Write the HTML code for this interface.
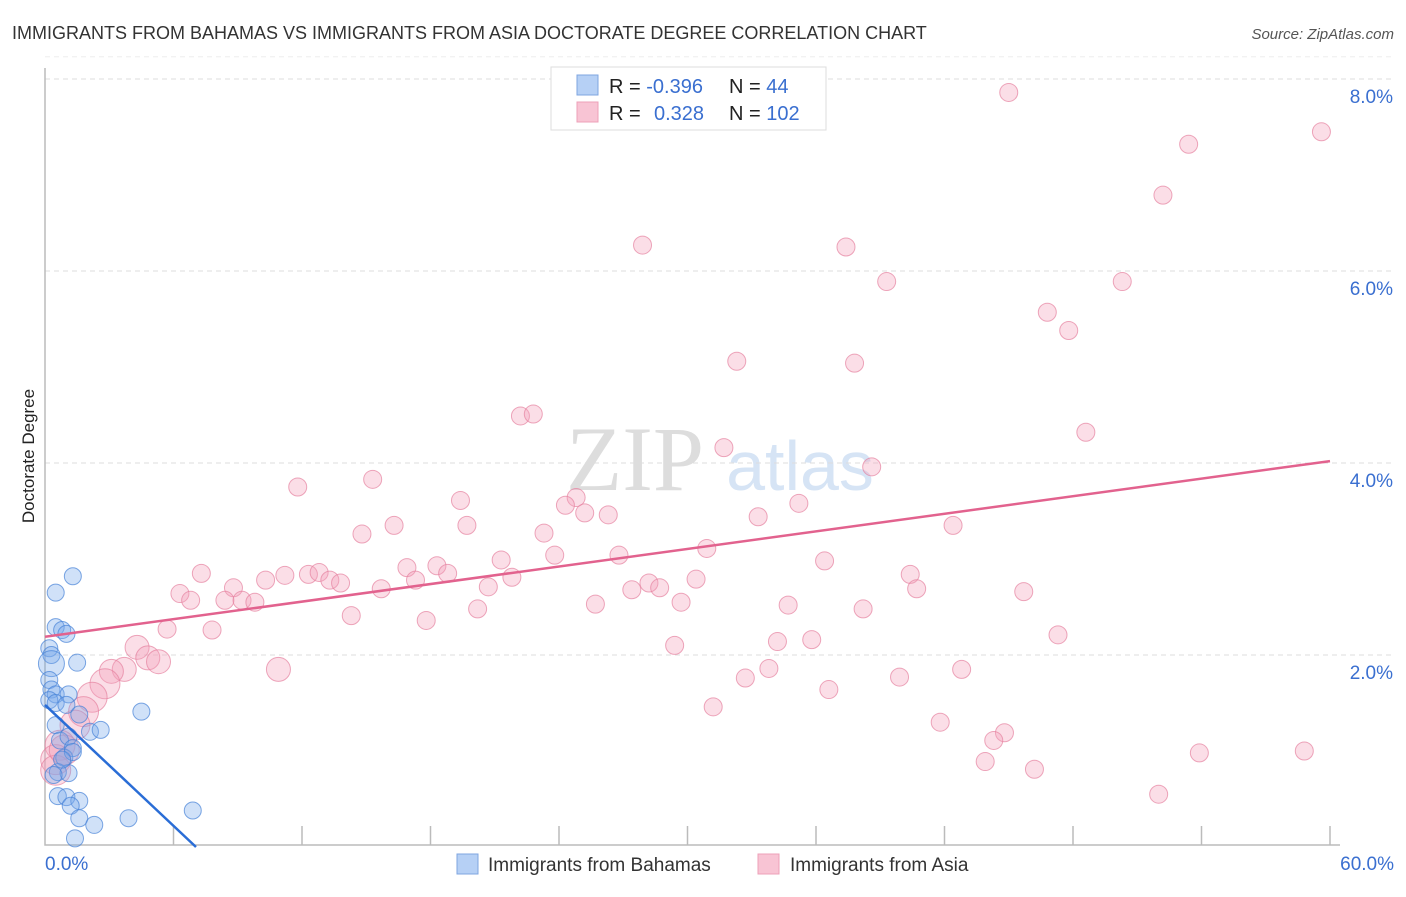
<!DOCTYPE html>
<html><head><meta charset="utf-8"><style>
body{margin:0;background:#fff;font-family:"Liberation Sans",sans-serif}
</style></head><body>
<svg id="c" width="1406" height="892" xmlns="http://www.w3.org/2000/svg" style="font-family:'Liberation Sans',sans-serif">
<text x="12" y="39" font-size="18" fill="#333">IMMIGRANTS FROM BAHAMAS VS IMMIGRANTS FROM ASIA DOCTORATE DEGREE CORRELATION CHART</text>
<text x="1394" y="39" font-size="15" fill="#555" text-anchor="end" font-style="italic">Source: ZipAtlas.com</text>
<text x="34" y="456" font-size="17" fill="#222" text-anchor="middle" transform="rotate(-90 34 456)">Doctorate Degree</text>
<g><text x="635" y="490" font-size="92" fill="#ddd" font-family="Liberation Serif" text-anchor="middle">ZIP</text><text x="800" y="490" font-size="70" fill="#d6e4f5" text-anchor="middle">atlas</text></g>
<g id="grid"></g><g id="pts"></g><g id="lines"></g>
<g>
<rect x="551" y="67" width="275" height="63" fill="#fff" stroke="#ddd"/>
<rect x="577" y="75" width="21" height="20" fill="#b6d0f5" stroke="#7fa6e0"/>
<rect x="577" y="102" width="21" height="20" fill="#f8c4d4" stroke="#eea0b8"/>
<text x="609" y="93" font-size="20" fill="#222">R = <tspan fill="#3a6fd0">-0.396</tspan></text>
<text x="729" y="93" font-size="20" fill="#222">N = <tspan fill="#3a6fd0">  44</tspan></text>
<text x="609" y="120" font-size="20" fill="#222">R = </text><text x="654" y="120" font-size="20" fill="#3a6fd0">0.328</text>
<text x="729" y="120" font-size="20" fill="#222">N = <tspan fill="#3a6fd0">102</tspan></text>
</g>
<g>
<rect x="457" y="854" width="21" height="20" fill="#b6d0f5" stroke="#7fa6e0"/>
<text x="488" y="871" font-size="19" fill="#333">Immigrants from Bahamas</text>
<rect x="758" y="854" width="21" height="20" fill="#f8c4d4" stroke="#eea0b8"/>
<text x="790" y="871" font-size="19" fill="#333">Immigrants from Asia</text>
</g>
</svg>
<script>
const yTicks=[2,4,6,8];
const yTickLabels=["2.0%","4.0%","6.0%","8.0%"];
const xTickLabels=["0.0%","60.0%"];
const asiaX=[45.0,53.4,59.6,52.2,27.9,37.4,39.3,50.3,46.8,47.8,32.3,37.8,22.2,22.8,48.6,31.7,38.6,11.8,15.3,19.4,24.8,24.3,25.2,26.3,35.2,33.3,16.3,19.7,42.4,14.8,23.3,30.9,23.8,26.8,21.3,36.4,7.3,10.3,11.2,12.3,12.8,13.3,13.8,16.9,17.3,18.3,18.8,21.8,20.7,15.7,8.8,30.4,28.2,28.7,27.4,40.4,40.7,45.7,6.3,6.8,8.4,9.2,9.8,25.7,29.7,34.7,38.2,20.2,14.3,17.8,5.7,7.8,47.3,35.8,34.2,29.4,4.3,4.8,5.3,3.7,3.1,10.9,33.8,42.8,32.7,39.9,36.6,2.8,2.2,1.8,31.2,41.8,1.4,44.8,44.3,0.7,58.8,53.9,0.5,43.9,46.2,0.5,52.0,0.9];
const asiaY=[7.86,7.32,7.45,6.79,6.27,6.25,5.89,5.89,5.57,5.38,5.06,5.04,4.49,4.51,4.32,4.16,3.96,3.75,3.83,3.61,3.64,3.56,3.48,3.46,3.58,3.44,3.35,3.35,3.35,3.26,3.27,3.11,3.04,3.04,2.99,2.98,2.85,2.78,2.83,2.84,2.86,2.78,2.75,2.91,2.78,2.93,2.85,2.81,2.71,2.69,2.70,2.79,2.75,2.70,2.68,2.84,2.69,2.66,2.64,2.57,2.57,2.57,2.55,2.53,2.55,2.52,2.48,2.48,2.41,2.36,2.27,2.26,2.21,2.16,2.14,2.10,2.08,1.97,1.93,1.85,1.83,1.85,1.86,1.85,1.76,1.77,1.64,1.70,1.56,1.41,1.46,1.30,1.27,1.19,1.11,1.06,1.00,0.98,0.91,0.89,0.81,0.80,0.55,1.01];
const asiaBig=[76,77,78,79,80,81,87,88,89,92,95,98,101,103];
const bahX=[1.3,0.5,0.5,0.8,1.0,1.5,0.2,0.3,0.3,0.2,0.3,0.5,1.1,0.2,0.5,1.0,4.5,0.5,0.7,1.1,2.1,1.6,1.3,0.9,1.3,0.6,1.1,0.6,1.0,1.6,1.2,1.6,2.3,3.9,6.9,1.4,0.8,0.4,2.6];
const bahY=[2.82,2.65,2.29,2.26,2.22,1.92,2.07,2.00,1.91,1.74,1.64,1.59,1.59,1.53,1.50,1.48,1.41,1.27,1.11,1.15,1.20,1.38,1.03,0.93,0.99,0.78,0.77,0.53,0.52,0.48,0.43,0.30,0.23,0.30,0.38,0.09,0.91,0.75,1.22];
const asiaTrend=[2.19,4.02];
const bahTrend=[1.48,0.0];
const sx=v=>45+v*(1285/60), sy=v=>847-v*96;
const NS="http://www.w3.org/2000/svg";
function mk(p,t,a){const e=document.createElementNS(NS,t);for(const k in a)e.setAttribute(k,a[k]);p.appendChild(e);return e;}
const g=document.getElementById('grid');
yTicks.forEach((t,i)=>{
 const l=mk(g,'line',{x1:45,x2:1394,y1:sy(t),y2:sy(t),stroke:'#ddd','stroke-dasharray':'5,4'});
 
 
 const tx=mk(g,'text',{x:1393,y:sy(t)+24,'font-size':19,fill:'#3a6fd0','text-anchor':'end'});tx.textContent=yTickLabels[i];
 
 
});
mk(g,'line',{x1:45,x2:1394,y1:sy(8.2)-3,y2:sy(8.2)-3,stroke:'#eee','stroke-dasharray':'5,4'});
const ax=mk(g,'path',{d:'M45,68V845H1340',fill:'none',stroke:'#bbb','stroke-width':1.5});


for(let i=1;i<=10;i++){const t=mk(g,'line',{x1:sx(i*6),x2:sx(i*6),y1:826,y2:845,stroke:'#bbb','stroke-width':1.5});
 
 }
[[0,'start',45],[60,'end',1394]].forEach((d,i)=>{const t=mk(g,'text',{x:d[2],y:870,'font-size':19,fill:'#3a6fd0','text-anchor':d[1]});t.textContent=xTickLabels[i];
 
 });
const p=document.getElementById('pts');
asiaX.forEach((x,i)=>{const big=asiaBig.indexOf(i)>=0;const c=mk(p,'circle',{cx:sx(x),cy:sy(asiaY[i]),r:big?(x<3?15:12):9,fill:'rgba(244,160,186,0.35)',stroke:'rgba(230,130,160,0.7)','stroke-width':1});
 
 });
bahX.forEach((x,i)=>{const c=mk(p,'circle',{cx:sx(x),cy:sy(bahY[i]),r:i==8?13:8.5,fill:'rgba(120,170,235,0.35)',stroke:'rgba(70,130,215,0.7)','stroke-width':1});
 
 });
const L=document.getElementById('lines');
const a=mk(L,'line',{x1:sx(0),y1:sy(asiaTrend[0]),x2:sx(60),y2:sy(asiaTrend[1]),stroke:'#e2628e','stroke-width':2.5});


const xe=7.05;
const b=mk(L,'line',{x1:sx(0),y1:sy(bahTrend[0]),x2:sx(xe),y2:sy(bahTrend[1]),stroke:'#2a6dd6','stroke-width':2.5});


</script>
</body></html>
